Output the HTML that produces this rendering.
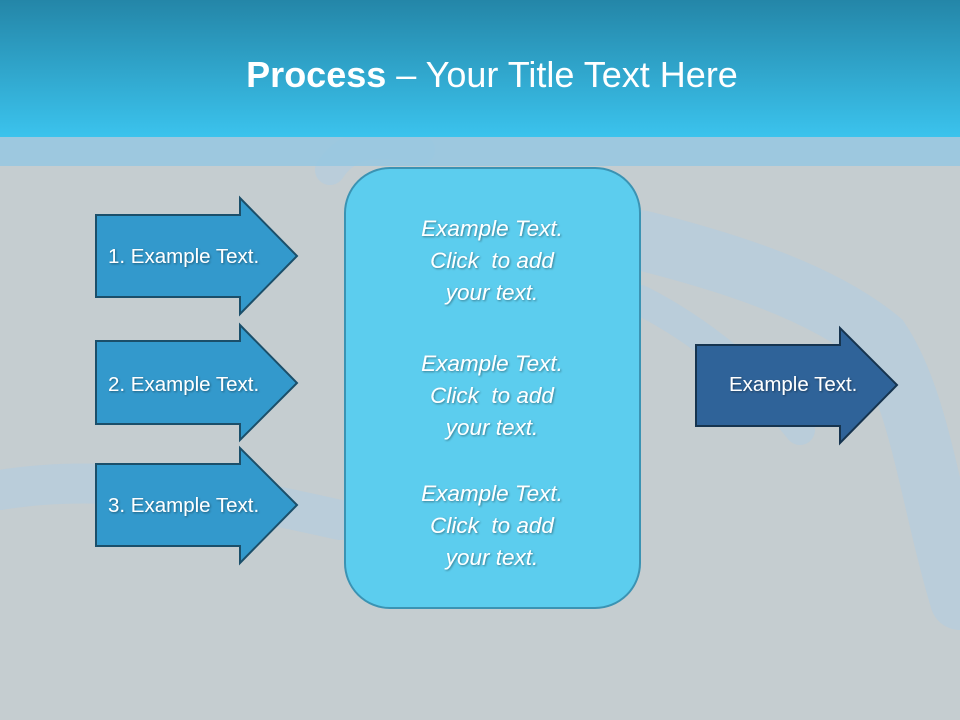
<!DOCTYPE html>
<html><head><style>
body{margin:0;width:960px;height:720px;overflow:hidden;background:#c5cdd0;font-family:"Liberation Sans",sans-serif;}
text{white-space:pre;}
</style></head><body>
<svg width="960" height="720" viewBox="0 0 960 720" xmlns="http://www.w3.org/2000/svg" style="position:absolute;left:0;top:0">
<defs>
<linearGradient id="hd" x1="0" y1="0" x2="0" y2="1"><stop offset="0" stop-color="#2486a8"/><stop offset="1" stop-color="#3bc3ed"/></linearGradient>
<filter id="sh"><feDropShadow dx="1" dy="1" stdDeviation="1" flood-color="#000" flood-opacity="0.4"/></filter>
</defs>
<rect width="960" height="720" fill="#c5cdd0"/>
<g fill="none" stroke="#a9cde8" stroke-opacity="0.4" stroke-linecap="round">
<path d="M0 490 C120 470 250 500 340 520" stroke-width="40"/>
<path d="M640 240 C720 260 820 290 880 340 C920 400 930 500 960 600" stroke-width="60"/>
<path d="M640 300 C700 330 760 380 800 430" stroke-width="30"/>
<path d="M330 170 C350 140 380 140 420 150" stroke-width="30"/>
</g>
<rect x="0" y="0" width="960" height="137" fill="url(#hd)"/>
<rect x="0" y="137" width="960" height="29" fill="#98c8e0" fill-opacity="0.9"/>
<text x="492" y="87" text-anchor="middle" fill="#fff" font-size="36"><tspan font-weight="bold">Process</tspan> – Your Title Text Here</text>
<rect x="345" y="168" width="295" height="440" rx="45" fill="#5ccdee" stroke="#3b93b3" stroke-width="2"/>
<g fill="#fff" font-size="22.5" font-style="italic" text-anchor="middle" filter="url(#sh)">
<text x="492" y="236">Example Text.</text><text x="492" y="268">Click  to add</text><text x="492" y="300">your text.</text>
<text x="492" y="371">Example Text.</text><text x="492" y="403">Click  to add</text><text x="492" y="435">your text.</text>
<text x="492" y="501">Example Text.</text><text x="492" y="533">Click  to add</text><text x="492" y="565">your text.</text>
</g>
<g fill="#3399cc" stroke="#1b4f6a" stroke-width="2">
<polygon points="96,215 240,215 240,198 297,256 240,314 240,297 96,297"/>
<polygon points="96,341 240,341 240,325 297,383 240,440 240,424 96,424"/>
<polygon points="96,464 240,464 240,448 297,505 240,563 240,546 96,546"/>
<polygon points="696,345 840,345 840,328 897,385 840,443 840,426 696,426" fill="#2f6399" stroke="#16344f"/>
</g>
<g fill="#fff" font-size="20.5" filter="url(#sh)">
<text x="108" y="263">1. Example Text.</text>
<text x="108" y="391">2. Example Text.</text>
<text x="108" y="512">3. Example Text.</text>
<text x="729" y="391">Example Text.</text>
</g>
</svg>
</body></html>
